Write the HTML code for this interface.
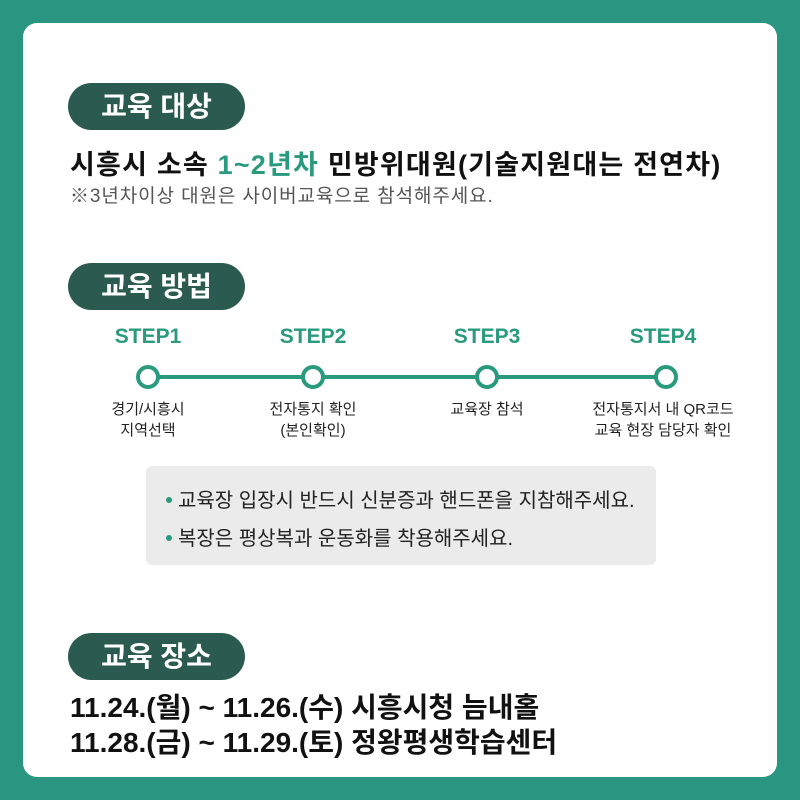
<!DOCTYPE html>
<html><head><meta charset="utf-8"><style>
*{margin:0;padding:0;box-sizing:border-box}
body{width:800px;height:800px;background:#2a9580;position:relative;font-family:"Liberation Sans","Noto Sans CJK KR",sans-serif;overflow:hidden}
.card{position:absolute;left:23px;top:23px;width:754px;height:754px;background:#fff;border-radius:14px}
.pill{position:absolute;left:68px;width:177px;height:47px;background:#2b5a50;border-radius:24px;color:#fff;font-weight:bold;font-size:28px;text-align:center;line-height:47px}
.t{position:absolute;white-space:nowrap}
.step{position:absolute;top:325px;width:140px;margin-left:-70px;text-align:center;color:#2a9a7e;font-weight:bold;font-size:21px}
.circ{position:absolute;top:365px;width:24px;height:24px;margin-left:-12px;border:4px solid #2a9a7e;border-radius:50%;background:#fff}
.lab{position:absolute;top:399px;width:200px;margin-left:-100px;text-align:center;font-size:15px;line-height:21px;color:#222}
.dot{display:inline-block;width:6px;height:6px;border-radius:50%;background:#2a9a7e;vertical-align:middle;margin-right:6px;position:relative;top:-2px}
</style></head><body>
<div class="card"></div>
<div class="pill" style="top:83px">교육 대상</div>
<div class="t" style="left:70px;top:143px;font-size:27px;font-weight:bold;color:#111;letter-spacing:1.2px">시흥시 소속 <span style="color:#2a9a7e">1~2년차</span> 민방위대원(기술지원대는 전연차)</div>
<div class="t" style="left:70px;top:181px;font-size:19px;color:#555;letter-spacing:0.9px">※3년차이상 대원은 사이버교육으로 참석해주세요.</div>
<div class="pill" style="top:263px">교육 방법</div>
<div style="position:absolute;left:148px;top:375px;width:515px;height:4px;background:#2a9a7e"></div>
<div class="step" style="left:148px">STEP1</div>
<div class="step" style="left:313px">STEP2</div>
<div class="step" style="left:487px">STEP3</div>
<div class="step" style="left:663px">STEP4</div>
<div class="circ" style="left:148px"></div>
<div class="circ" style="left:313px"></div>
<div class="circ" style="left:487px"></div>
<div class="circ" style="left:666px"></div>
<div class="lab" style="left:148px">경기/시흥시<br>지역선택</div>
<div class="lab" style="left:313px">전자통지 확인<br>(본인확인)</div>
<div class="lab" style="left:487px">교육장 참석</div>
<div class="lab" style="left:663px">전자통지서 내 QR코드<br>교육 현장 담당자 확인</div>
<div style="position:absolute;left:146px;top:466px;width:510px;height:99px;background:#ebebeb;border-radius:6px"></div>
<div class="t" style="left:166px;top:484px;font-size:20px;color:#222"><span class="dot"></span>교육장 입장시 반드시 신분증과 핸드폰을 지참해주세요.</div>
<div class="t" style="left:166px;top:522px;font-size:20px;color:#222"><span class="dot"></span>복장은 평상복과 운동화를 착용해주세요.</div>
<div class="pill" style="top:633px">교육 장소</div>
<div class="t" style="left:70px;top:690px;font-size:28px;font-weight:bold;color:#111;line-height:35px">11.24.(월) ~ 11.26.(수) 시흥시청 늠내홀<br>11.28.(금) ~ 11.29.(토) 정왕평생학습센터</div>
</body></html>
